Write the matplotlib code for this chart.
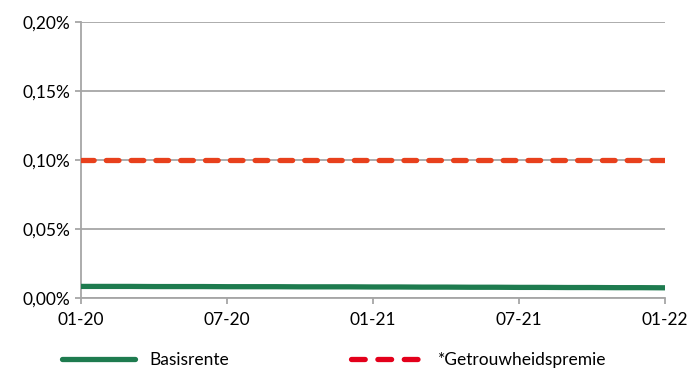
import matplotlib.pyplot as plt
import matplotlib.ticker as mticker
from matplotlib.lines import Line2D
import numpy as np

# maandelijkse punten 01-20 t/m 01-22
months = ['01-20', '02-20', '03-20', '04-20', '05-20', '06-20', '07-20', '08-20',
          '09-20', '10-20', '11-20', '12-20', '01-21', '02-21', '03-21', '04-21',
          '05-21', '06-21', '07-21', '08-21', '09-21', '10-21', '11-21', '12-21',
          '01-22']
basisrente = [0.0085, 0.0085, 0.0085, 0.0084, 0.0084, 0.0084, 0.0083, 0.0083,
              0.0083, 0.0082, 0.0082, 0.0082, 0.0081, 0.0081, 0.0080, 0.0080,
              0.0079, 0.0079, 0.0078, 0.0078, 0.0077, 0.0077, 0.0076, 0.0076,
              0.0075]
premie = [0.10] * 25
tick_labels = ['01-20', '07-20', '01-21', '07-21', '01-22']

plt.rcParams['font.family'] = ['Lato', 'DejaVu Sans']
grey = '#a6a6a6'
green = '#1e7b4f'

fig = plt.figure(figsize=(6.87, 3.69), dpi=100)
ax = fig.add_axes([0.118, 0.192, 0.850, 0.748])

x = np.arange(len(months))
ax.plot(x, basisrente, color=green, lw=3.8, solid_capstyle='round', zorder=3)
ax.plot(x, premie, color='#e8401c', lw=3.8, dashes=(2.4, 2.3),
        dash_capstyle='round', zorder=3)

ax.set_xlim(0, len(months) - 1)
ax.set_ylim(0, 0.20)
ax.set_xticks([months.index(t) for t in tick_labels])
ax.set_xticklabels(tick_labels)
ax.set_yticks([0, 0.05, 0.10, 0.15, 0.20])
ax.yaxis.set_major_formatter(mticker.FuncFormatter(lambda v, p: f'{v:.2f}%'.replace('.', ',')))

ax.grid(axis='y', color=grey, lw=1.3)
ax.set_axisbelow(True)
for s in ['top', 'right']:
    ax.spines[s].set_visible(False)
for s in ['left', 'bottom']:
    ax.spines[s].set_color(grey)
    ax.spines[s].set_linewidth(1.3)
ax.tick_params(colors=grey, labelcolor='black', labelsize=12.5, length=4, width=1.3)
ax.tick_params(axis='x', pad=6)

handles = [Line2D([], [], color=green, lw=3.8, solid_capstyle='round'),
           Line2D([], [], color='#e3001b', lw=3.8, dashes=(2.6, 2.4), dash_capstyle='round')]
fig.legend(handles, ['Basisrente', '*Getrouwheidspremie'], loc='center left',
           bbox_to_anchor=(0.090, 0.025), ncol=2, frameon=False, fontsize=12.5,
           handlelength=4.2, columnspacing=7.0, handletextpad=0.85,
           borderpad=0, borderaxespad=0)

fig.savefig('out.png', dpi=100)
